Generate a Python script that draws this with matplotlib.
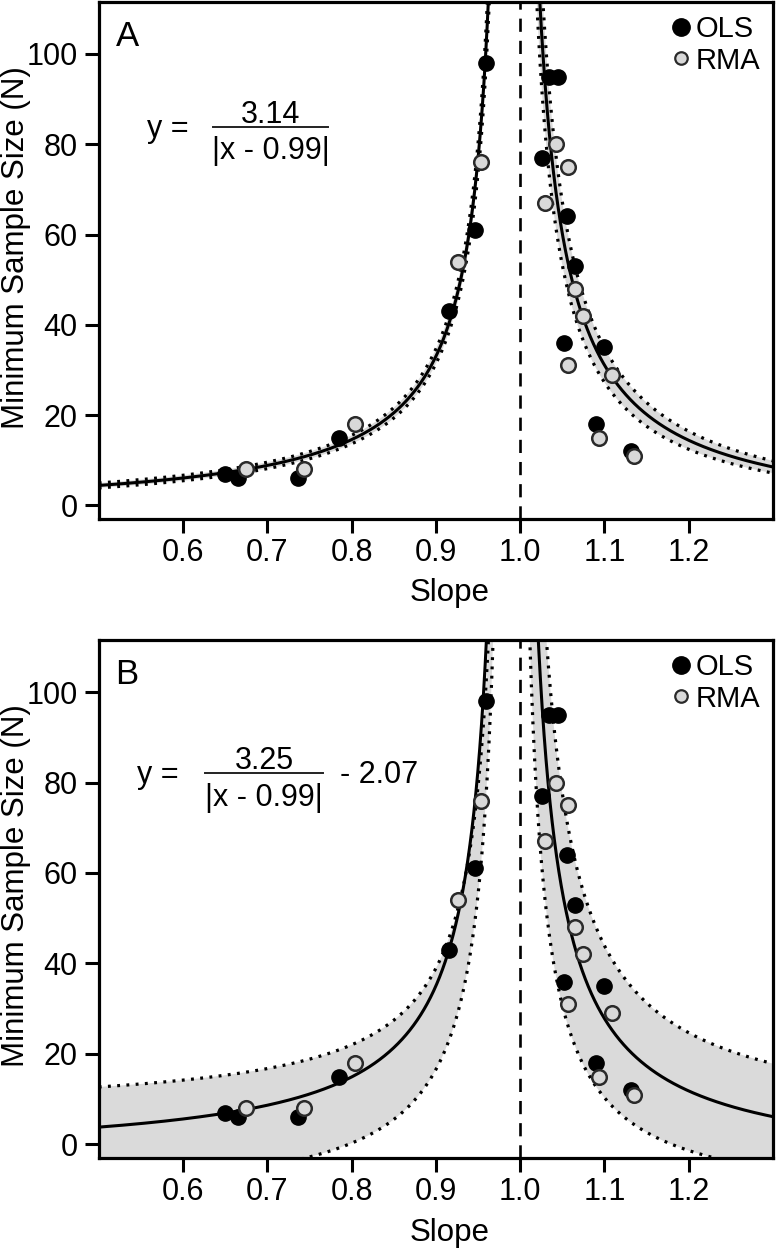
import numpy as np
import matplotlib
matplotlib.use("Agg")
import matplotlib.pyplot as plt
from matplotlib.lines import Line2D

plt.rcParams['font.family'] = ['Liberation Sans', 'DejaVu Sans']

# ---------------- data ----------------
ols_x = [0.650, 0.665, 0.737, 0.785, 0.916, 0.946, 0.959,
         1.026, 1.034, 1.045, 1.052, 1.056, 1.065, 1.090, 1.100, 1.132]
ols_y = [7, 6, 6, 15, 43, 61, 98,
         77, 95, 95, 36, 64, 53, 18, 35, 12]
rma_x = [0.675, 0.744, 0.804, 0.926, 0.954,
         1.029, 1.042, 1.057, 1.057, 1.065, 1.075, 1.094, 1.109, 1.135]
rma_y = [8, 8, 18, 54, 76,
         67, 80, 31, 75, 48, 42, 15, 29, 11]

# fitted curve parameters  y = a/|x - c| + b   (left branch, right branch)
A_center = {"left": (3.15, 0.99, -2.0), "right": (3.85, 0.99, -3.9)}
A_upper = {"left": (3.27, 0.99, -1.7), "right": (4.27, 0.99, -3.9)}
A_lower = {"left": (3.03, 0.99, -2.3), "right": (3.43, 0.99, -3.9)}

B_center = {"left": (3.44, 0.99, -3.2), "right": (3.70, 0.99, -5.8)}
B_upper = {"left": (2.89, 0.99, 6.8), "right": (4.45, 0.99, 3.5)}
B_lower = {"left": (2.78, 0.99, -14.35), "right": (2.70, 0.99, -14.2)}

eq_A = ("y =", "3.14", "|x - 0.99|", "")
eq_B = ("y =", "3.25", "|x - 0.99|", "- 2.07")
panel_labels = ["A", "B"]
xticks = [0.6, 0.7, 0.8, 0.9, 1.0, 1.1, 1.2]
yticks = [0, 20, 40, 60, 80, 100]

W, H = 780, 1249
fig = plt.figure(figsize=(W / 100, H / 100), dpi=100)
FS = 22


def px_axes(l, r, t, b):
    return [l / W, 1 - b / H, (r - l) / W, (b - t) / H]


def hyper(x, p):
    a, c, b = p
    return a / np.abs(x - c) + b


def draw_panel(ax, center, upper, lower, eq, label, eqpx):
    ax.set_xlim(0.5, 1.3)
    ax.set_ylim(-3, 111.5)
    for side in ("left", "right"):
        c = center[side][1]
        if side == "left":
            x = np.linspace(0.5, c - 0.0005, 3000)
        else:
            x = np.linspace(c + 0.0005, 1.3, 3000)
        yu = hyper(x, upper[side])
        yl = hyper(x, lower[side])
        yc = hyper(x, center[side])
        ax.fill_between(x, yl, yu, color='#dadada', lw=0, zorder=1)
        ax.plot(x, yu, color='black', lw=2.3, dashes=(0.9, 2.0), zorder=2)
        ax.plot(x, yl, color='black', lw=2.3, dashes=(0.9, 2.0), zorder=2)
        ax.plot(x, yc, color='black', lw=2.2, zorder=3)
    ax.axvline(1.0, color='black', lw=1.9, dashes=(5.0, 3.4), zorder=2)
    ax.plot(ols_x, ols_y, 'o', ms=11, mfc='black', mec='black', mew=1, zorder=4)
    ax.plot(rma_x, rma_y, 'o', ms=10.5, mfc='#d9d9d9', mec='#2a2a2a', mew=1.8, zorder=5)

    ax.set_xticks(xticks)
    ax.set_xticklabels([f"{v:.1f}" for v in xticks])
    ax.set_yticks(yticks)
    ax.tick_params(direction='out', length=10, width=2.2, labelsize=FS, colors='black')
    ax.tick_params(axis='x', pad=4)
    ax.tick_params(axis='y', pad=5)
    for s in ax.spines.values():
        s.set_linewidth(2.3)
    ax.set_xlabel("Slope", fontsize=FS + 0.5)
    ax.xaxis.set_label_coords(0.52, -0.115)
    ax.set_ylabel("Minimum Sample Size (N)", fontsize=FS + 0.5)
    ax.yaxis.set_label_coords(-0.10, 0.525)

    ax.text(0.025, 0.965, label, transform=ax.transAxes, fontsize=25, va='top', ha='left')

    handles = [Line2D([], [], ls='none', marker='o', ms=12.5, mfc='black', mec='black'),
               Line2D([], [], ls='none', marker='o', ms=9, mfc='#d9d9d9', mec='#2a2a2a', mew=1.6)]
    ax.legend(handles, ["OLS", "RMA"], loc='upper right', frameon=False, fontsize=21,
              handlelength=0.6, handletextpad=0.2, labelspacing=0.12,
              borderaxespad=0.15, borderpad=0.3)

    # equation
    ylab, num, den, tail = eq
    xl, xr, yline, xy, xtail = eqpx
    tf = fig.transFigure
    fig.text(xy / W, 1 - (yline + 10) / H, ylab, fontsize=FS, ha='left', va='baseline')
    fig.text((xl + xr) / 2 / W, 1 - (yline - 4) / H, num, fontsize=FS, ha='center', va='baseline')
    fig.text((xl + xr) / 2 / W, 1 - (yline + 32.5) / H, den, fontsize=FS, ha='center', va='baseline')
    if tail:
        fig.text(xtail / W, 1 - (yline + 10) / H, tail, fontsize=FS, ha='left', va='baseline')
    fig.add_artist(Line2D([xl / W, xr / W], [1 - yline / H, 1 - yline / H], color='#222222', lw=1.4, transform=tf))


axA = fig.add_axes(px_axes(98.7, 773, 2, 519))
axB = fig.add_axes(px_axes(98.7, 773, 640, 1158))
draw_panel(axA, A_center, A_upper, A_lower, eq_A, panel_labels[0], (213, 328, 126.7, 147, 0))
draw_panel(axB, B_center, B_upper, B_lower, eq_B, panel_labels[1], (205, 323, 773.3, 137, 340))

fig.savefig("out.png", dpi=100)
